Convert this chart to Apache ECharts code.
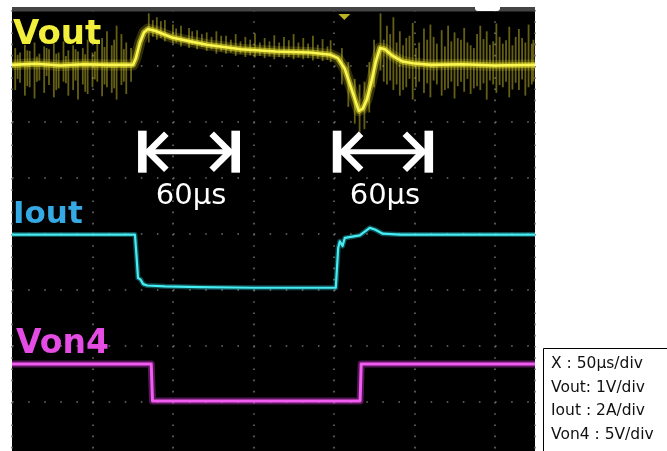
<!DOCTYPE html>
<html>
<head>
<meta charset="utf-8">
<script src="https://cdn.jsdelivr.net/npm/echarts@6/dist/echarts.min.js"></script>
<style>
html, body {margin: 0; padding: 0; background: #fff;}
#chart {width: 667px; height: 451px;}
</style>
</head>
<body>
<div id="chart"></div>
<script>
// time in µs from the left edge of the screen, values in each channel's own unit
const voutTime = [0, 15, 30, 45, 60, 75.2, 77.0, 79.5, 82.0, 84.5, 88.8, 99.4, 110.6, 121.1, 142.2, 164.0, 185.1, 198.1, 202.5, 206.8, 211.2, 215.5, 218.0, 220.5, 223.5, 226.1, 228.6, 231.7, 236.6, 242.8, 249.1, 260.2, 280, 300, 325];
const voutVolts = [0, 0.02, -0.01, 0.01, 0, 0, 0.12, 0.40, 0.58, 0.64, 0.61, 0.49, 0.42, 0.36, 0.28, 0.24, 0.22, 0.18, 0.12, -0.07, -0.45, -0.82, -0.78, -0.62, -0.28, 0.06, 0.30, 0.28, 0.16, 0.06, 0.03, 0, 0.01, -0.01, 0];

// noise spikes on Vout: time, top, bottom (V)
const spikeTime = [2, 5, 8, 11, 14, 17, 20, 23, 26, 29, 32, 35, 38, 41, 44, 47, 50, 53, 56, 59, 62, 65, 68, 71, 74,
	85, 90, 95, 100, 105, 110, 115, 121, 127, 133, 139, 145, 151, 157, 163, 169, 175, 181, 187, 193, 198,
	205, 209, 213, 216, 219, 222, 225,
	229, 233, 237, 241, 245, 249, 253, 256, 260, 264, 267, 271, 275, 279, 281, 285, 289, 291, 295, 299, 301, 305, 309, 313, 315, 319, 321, 324,
	3.5, 9.5, 15.5, 21.5, 27.5, 33.5, 39.5, 45.5, 51.5, 57.5, 63.5, 69.5,
	87.5, 92.5, 102, 112, 118, 124, 130, 136, 142, 148, 154, 160, 166, 172, 178, 184, 190, 196,
	231, 235, 239, 243, 247, 251, 258, 262, 269, 273, 277, 283, 287, 293, 297, 303, 307, 311, 317, 323];
const spikeHigh = [0.30, 0.22, 0.36, 0.25, 0.40, 0.20, 0.33, 0.28, 0.38, 0.22, 0.42, 0.26, 0.35, 0.24, 0.30, 0.45, 0.22, 0.38, 0.48, 0.60, 0.35, 0.70, 0.55, 0.40, 0.30,
	0.92, 0.85, 0.80, 0.72, 0.70, 0.66, 0.62, 0.58, 0.60, 0.52, 0.55, 0.50, 0.56, 0.48, 0.53, 0.50, 0.55, 0.48, 0.52, 0.46, 0.44,
	0.30, 0.05, -0.25, -0.35, -0.30, 0.05, 0.45,
	0.92, 0.70, 0.85, 0.60, 0.48, 0.75, 0.40, 0.65, 0.72, 0.38, 0.62, 0.70, 0.58, 0.45, 0.66, 0.35, 0.55, 0.70, 0.60, 0.42, 0.74, 0.38, 0.68, 0.50, 0.64, 0.40, 0.72, 0.45,
	0.18, 0.26, 0.15, 0.30, 0.20, 0.16, 0.28, 0.19, 0.24, 0.32, 0.45, 0.28,
	0.80, 0.78, 0.65, 0.60, 0.55, 0.50, 0.52, 0.45, 0.42, 0.45, 0.40, 0.42, 0.40, 0.44, 0.40, 0.38, 0.36, 0.33,
	0.45, 0.55, 0.40, 0.35, 0.52, 0.30, 0.45, 0.50, 0.33, 0.42, 0.48, 0.40, 0.30, 0.46, 0.36, 0.50, 0.44, 0.35, 0.48, 0.38];
const spikeLow = [-0.45, -0.32, -0.55, -0.40, -0.60, -0.28, -0.50, -0.36, -0.58, -0.42, -0.30, -0.55, -0.45, -0.62, -0.35, -0.52, -0.40, -0.30, -0.56, -0.40, -0.50, -0.62, -0.36, -0.52, -0.30,
	0.40, 0.45, 0.42, 0.38, 0.33, 0.30, 0.28, 0.25, 0.20, 0.20, 0.16, 0.14, 0.13, 0.12, 0.10, 0.11, 0.10, 0.10, 0.08, 0.07, 0.05,
	-0.35, -0.75, -1.05, -1.25, -1.15, -0.85, -0.40,
	-0.10, -0.35, -0.45, -0.55, -0.40, -0.62, -0.30, -0.50, -0.58, -0.35, -0.55, -0.42, -0.60, -0.30, -0.48, -0.52, -0.38, -0.45, -0.62, -0.35, -0.50, -0.40, -0.58, -0.32, -0.45, -0.55, -0.40, -0.30,
	-0.25, -0.38, -0.30, -0.20, -0.45, -0.33, -0.28, -0.48, -0.26, -0.35, -0.42, -0.30,
	0.50, 0.48, 0.40, 0.36, 0.32, 0.28, 0.24, 0.22, 0.20, 0.17, 0.16, 0.15, 0.14, 0.14, 0.13, 0.12, 0.11, 0.09,
	-0.30, -0.28, -0.35, -0.45, -0.25, -0.40, -0.33, -0.28, -0.45, -0.30, -0.38, -0.25, -0.42, -0.33, -0.28, -0.36, -0.30, -0.44, -0.26, -0.35];

const ioutTime = [0, 76.4, 77.3, 78.3, 79.2, 79.8, 81.5, 84, 95, 117, 150, 201.2, 201.7, 202.7, 203.7, 205.4, 206.8, 216.1, 222.3, 225.5, 230.4, 241, 325];
const ioutAmps = [1.90, 1.90, 1.20, 0.35, 0.28, 0.30, 0.13, 0.08, 0.05, 0.02, 0, 0, 0.04, 1.42, 1.66, 1.49, 1.78, 1.87, 2.14, 2.08, 1.93, 1.90, 1.90];

const von4Time = [0, 86.5, 87.3, 216.3, 217.0, 325];
const von4Volts = [3.3, 3.3, 0, 0, 3.3, 3.3];

// measurement arrows: start, end (µs)
const arrowStart = [81, 202];
const arrowEnd = [139, 259];
const arrowLabels = ['60µs', '60µs'];

const scaleLines = ['X : 50µs/div', 'Vout: 1V/div', 'Iout : 2A/div', 'Von4 : 5V/div'];

// channel position on screen (divisions from bottom) and unit per division
const vout = {pos: 7.02, perDiv: 1};
const iout = {pos: 3.04, perDiv: 2};
const von4 = {pos: 1.02, perDiv: 5};
const arrowRow = 5.47;
const triggerTime = 206.5;

const place = (ch, t, v) => t.map((x, i) => [x, ch.pos + v[i] / ch.perDiv]);

function trace(data, color, width, opacity)
{
	return {type: 'line', data, showSymbol: false, silent: true, clip: true,
		lineStyle: {color, width, opacity, cap: 'butt', join: 'round'}};
}

const chart = echarts.init(document.getElementById('chart'));
chart.setOption({
	animation: false,
	backgroundColor: '#fff',
	grid: {left: 12, top: 10, width: 523, height: 448, show: true, backgroundColor: '#000', borderWidth: 0, outerBoundsMode: 'none'},
	xAxis: {type: 'value', min: 0, max: 325, interval: 50,
		axisLine: {show: false}, axisTick: {show: false}, axisLabel: {show: false},
		splitLine: {show: true, lineStyle: {color: '#6c6c6c', width: 1.6, type: [1.6, 9.6]}}},
	yAxis: {type: 'value', min: 0, max: 8, interval: 1,
		axisLine: {show: false}, axisTick: {show: false}, axisLabel: {show: false},
		splitLine: {show: true, lineStyle: {color: '#6c6c6c', width: 1.6, type: [1.6, 14.5]}}},
	series: [
		{type: 'custom', silent: true, clip: true,
			data: spikeTime.map((t, i) => [t, vout.pos + spikeHigh[i], vout.pos + spikeLow[i]]),
			renderItem: (params, api) =>
			{
				const a = api.coord([api.value(0), api.value(1)]);
				const b = api.coord([api.value(0), api.value(2)]);
				return {type: 'line', shape: {x1: a[0], y1: a[1], x2: b[0], y2: b[1]},
					style: {stroke: 'rgba(200,190,40,0.5)', lineWidth: 1.8}};
			}},
		trace(place(vout, voutTime, voutVolts), '#d9d226', 11, 0.22),
		trace(place(vout, voutTime, voutVolts), '#e6df2c', 6, 0.55),
		trace(place(vout, voutTime, voutVolts), '#fbf750', 2.6, 1),
		trace(place(iout, ioutTime, ioutAmps), '#2fd8e0', 5, 0.35),
		trace(place(iout, ioutTime, ioutAmps), '#45eef5', 2.2, 1),
		trace(place(von4, von4Time, von4Volts), '#d83ad8', 7, 0.4),
		trace(place(von4, von4Time, von4Volts), '#f25cf2', 3, 1),
		{type: 'scatter', silent: true, data: [[triggerTime, 7.875]], symbol: 'triangle', symbolRotate: 180,
			symbolSize: [12, 6], itemStyle: {color: '#e8e02a'}},
		{type: 'custom', silent: true, clip: false,
			data: arrowStart.map((t, i) => [t, arrowEnd[i], arrowRow]),
			renderItem: (params, api) =>
			{
				const a = api.coord([api.value(0), api.value(2)]);
				const b = api.coord([api.value(1), api.value(2)]);
				const y = a[1], h = 21, dx = 20, dy = 18;
				const arm = {stroke: '#fff', lineWidth: 6.5, fill: null, lineJoin: 'miter'};
				return {type: 'group', children: [
					{type: 'rect', shape: {x: a[0] - 4.3, y: y - h, width: 8.6, height: 2 * h}, style: {fill: '#fff'}},
					{type: 'rect', shape: {x: b[0] - 4.3, y: y - h, width: 8.6, height: 2 * h}, style: {fill: '#fff'}},
					{type: 'line', shape: {x1: a[0], y1: y, x2: b[0], y2: y}, style: {stroke: '#fff', lineWidth: 5}},
					{type: 'polyline', shape: {points: [[a[0] + 4 + dx, y - dy], [a[0] + 6, y], [a[0] + 4 + dx, y + dy]]}, style: arm},
					{type: 'polyline', shape: {points: [[b[0] - 4 - dx, y - dy], [b[0] - 6, y], [b[0] - 4 - dx, y + dy]]}, style: arm},
					{type: 'text', x: (a[0] + b[0]) / 2 + 2, y: y + 45,
						style: {text: arrowLabels[params.dataIndex], fill: '#fff', font: '29px "DejaVu Sans"', align: 'center', verticalAlign: 'middle'}}
				]};
			}}
	],
	graphic: [
		{type: 'rect', z: 100, shape: {x: 12, y: 7, width: 523, height: 4.5}, style: {fill: '#444'}},
		{type: 'rect', z: 101, shape: {x: 475, y: 6, width: 25, height: 5, r: [0, 0, 3, 3]}, style: {fill: '#fff'}},
		{type: 'text', z: 100, x: 13, y: 35, style: {text: 'Vout', fill: '#f2ee3c', font: 'bold 34px "DejaVu Sans"', verticalAlign: 'middle'}},
		{type: 'text', z: 100, x: 13, y: 215, style: {text: 'Iout', fill: '#35a9e3', font: 'bold 31px "DejaVu Sans"', verticalAlign: 'middle'}},
		{type: 'text', z: 100, x: 16, y: 344, style: {text: 'Von4', fill: '#e44ce4', font: 'bold 33px "DejaVu Sans"', verticalAlign: 'middle'}},
		{type: 'rect', z: 100, shape: {x: 543.5, y: 348.5, width: 130, height: 110}, style: {fill: '#fff', stroke: '#000', lineWidth: 1}},
		...scaleLines.map((s, i) => ({type: 'text', z: 101, x: 551, y: 364 + i * 23.6,
			style: {text: s, fill: '#111', font: '15.5px "DejaVu Sans"', verticalAlign: 'middle'}}))
	]
});
</script>
</body>
</html>
